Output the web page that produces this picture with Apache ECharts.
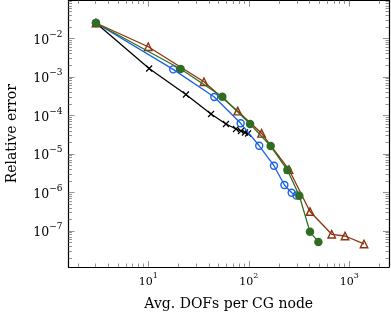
<!DOCTYPE html>
<html><head><meta charset="utf-8">
<script src="https://cdn.jsdelivr.net/npm/echarts@6/dist/echarts.min.js"></script>
<style>html,body{margin:0;padding:0;background:#fff}#c{width:391px;height:319px}</style>
</head><body><div id="c"></div>
<script>
// Data (x: avg DOFs per CG node, y: relative error)
const blackX = [3.02, 10.2, 23.7, 42.1, 59.3, 74.6, 83.6, 91.6, 98.2];
const blackY = [0.0251, 1.65e-3, 3.49e-4, 1.09e-4, 5.98e-5, 4.44e-5, 3.94e-5, 3.60e-5, 3.39e-5];
const blueX = [3.02, 17.7, 45.4, 83.0, 127, 178, 226, 267, 298];
const blueY = [0.0251, 1.57e-3, 3.01e-4, 6.24e-5, 1.63e-5, 4.94e-6, 1.56e-6, 9.82e-7, 8.3e-7];
const redX = [3.02, 10.0, 35.8, 77.6, 134, 251, 406, 668, 906, 1400];
const redY = [0.0251, 6.08e-3, 7.5e-4, 1.29e-4, 3.43e-5, 3.94e-6, 3.19e-7, 8.2e-8, 7.4e-8, 4.6e-8];
const greenX = [3.02, 21.0, 54.5, 103, 165, 242, 318, 406, 492];
const greenY = [0.0251, 1.60e-3, 3.06e-4, 5.98e-5, 1.60e-5, 3.82e-6, 8.2e-7, 9.5e-8, 5.2e-8];
const xMajor = [10, 100, 1000];
const yMajor = [1e-7, 1e-6, 1e-5, 1e-4, 1e-3, 1e-2];

const xMin = 1.61, xMax = 2480, yMin = 1.16e-8, yMax = 0.0964;
function minors(lo, hi, kLo, kHi) {
  const out = [];
  for (let k = kLo; k <= kHi; k++) for (let m = 2; m <= 9; m++) {
    const v = m * Math.pow(10, k);
    if (v > lo && v < hi) out.push(v);
  }
  return out;
}
const xMinor = minors(xMin, xMax, 0, 3);
const yMinor = minors(yMin, yMax, -8, -2);

const FONT = '"DejaVu Serif", "Liberation Serif", serif';
function lbl(v) {
  const e = Math.round(Math.log10(v));
  return '{b|10}{s|' + (e < 0 ? '\u2212' + (-e) : e) + '}';
}
const richX = {
  b: {fontSize: 11, fontFamily: FONT, color: '#000', lineHeight: 16, verticalAlign: 'bottom'},
  s: {fontSize: 8, fontFamily: FONT, color: '#000', lineHeight: 9, verticalAlign: 'top'}
};
const richY = {
  b: {fontSize: 12.5, fontFamily: FONT, color: '#000', lineHeight: 17, verticalAlign: 'bottom'},
  s: {fontSize: 9, fontFamily: FONT, color: '#000', lineHeight: 10, verticalAlign: 'top'}
};
function mkX(vals, len, pos, showLine, labels) {
  return {
    type: 'log', position: pos, min: xMin, max: xMax,
    axisLine: {show: showLine, onZero: false, lineStyle: {color: '#000', width: 1.2}},
    axisTick: {show: true, inside: true, length: len, customValues: vals, lineStyle: {color: '#777', width: 0.8}},
    axisLabel: labels ? {show: true, customValues: vals, formatter: lbl, rich: richX, margin: 5} : {show: false},
    splitLine: {show: false}, minorTick: {show: false},
    name: labels ? 'Avg. DOFs per CG node' : '', nameLocation: 'middle', nameGap: 30,
    nameTextStyle: {fontFamily: FONT, fontSize: 14, color: '#000'}
  };
}
function mkY(vals, len, pos, showLine, labels) {
  return {
    type: 'log', position: pos, min: yMin, max: yMax,
    axisLine: {show: showLine, onZero: false, lineStyle: {color: '#000', width: 1.2}},
    axisTick: {show: true, inside: true, length: len, customValues: vals, lineStyle: {color: '#777', width: 0.8}},
    axisLabel: labels ? {show: true, customValues: vals, formatter: lbl, rich: richY, margin: 6} : {show: false},
    splitLine: {show: false}, minorTick: {show: false},
    name: labels ? 'Relative error' : '', nameLocation: 'middle', nameGap: 49,
    nameTextStyle: {fontFamily: FONT, fontSize: 14, color: '#000'}
  };
}
const zip = (a, b) => a.map((v, i) => [v, b[i]]);
const chart = echarts.init(document.getElementById('c'), null, {renderer: 'canvas'});
chart.setOption({
  animation: false,
  backgroundColor: '#fff',
  grid: {left: 68.5, right: 2, top: 0.5, bottom: 52, containLabel: false, outerBoundsMode: 'none'},
  xAxis: [
    mkX(xMajor, 6, 'bottom', true, true),
    mkX(xMinor, 3.5, 'bottom', false, false),
    mkX(xMajor, 6, 'top', true, false),
    mkX(xMinor, 3.5, 'top', false, false)
  ],
  yAxis: [
    mkY(yMajor, 6, 'left', true, true),
    mkY(yMinor, 3.5, 'left', false, false),
    mkY(yMajor, 6, 'right', true, false),
    mkY(yMinor, 3.5, 'right', false, false)
  ],
  series: [
    {type: 'line', data: zip(blackX, blackY), symbol: 'path://M0,0L10,10M10,0L0,10', symbolSize: 6,
     lineStyle: {color: '#000', width: 1.3}, itemStyle: {color: 'rgba(0,0,0,0)', borderColor: '#000', borderWidth: 1.2}, z: 2},
    {type: 'line', data: zip(blueX, blueY), symbol: 'circle', symbolSize: 7,
     lineStyle: {color: '#1862e8', width: 1.3}, itemStyle: {color: 'rgba(0,0,0,0)', borderColor: '#1862e8', borderWidth: 1.4}, z: 3},
    {type: 'line', data: zip(redX, redY), symbol: 'triangle', symbolSize: 7.5,
     lineStyle: {color: '#8e3210', width: 1.3}, itemStyle: {color: 'rgba(0,0,0,0)', borderColor: '#8e3210', borderWidth: 1.4}, z: 4},
    {type: 'line', data: zip(greenX, greenY), symbol: 'circle', symbolSize: 8.5,
     lineStyle: {color: '#2f6e22', width: 1.3}, itemStyle: {color: '#2f6e22'}, z: 5}
  ]
});
</script></body></html>
